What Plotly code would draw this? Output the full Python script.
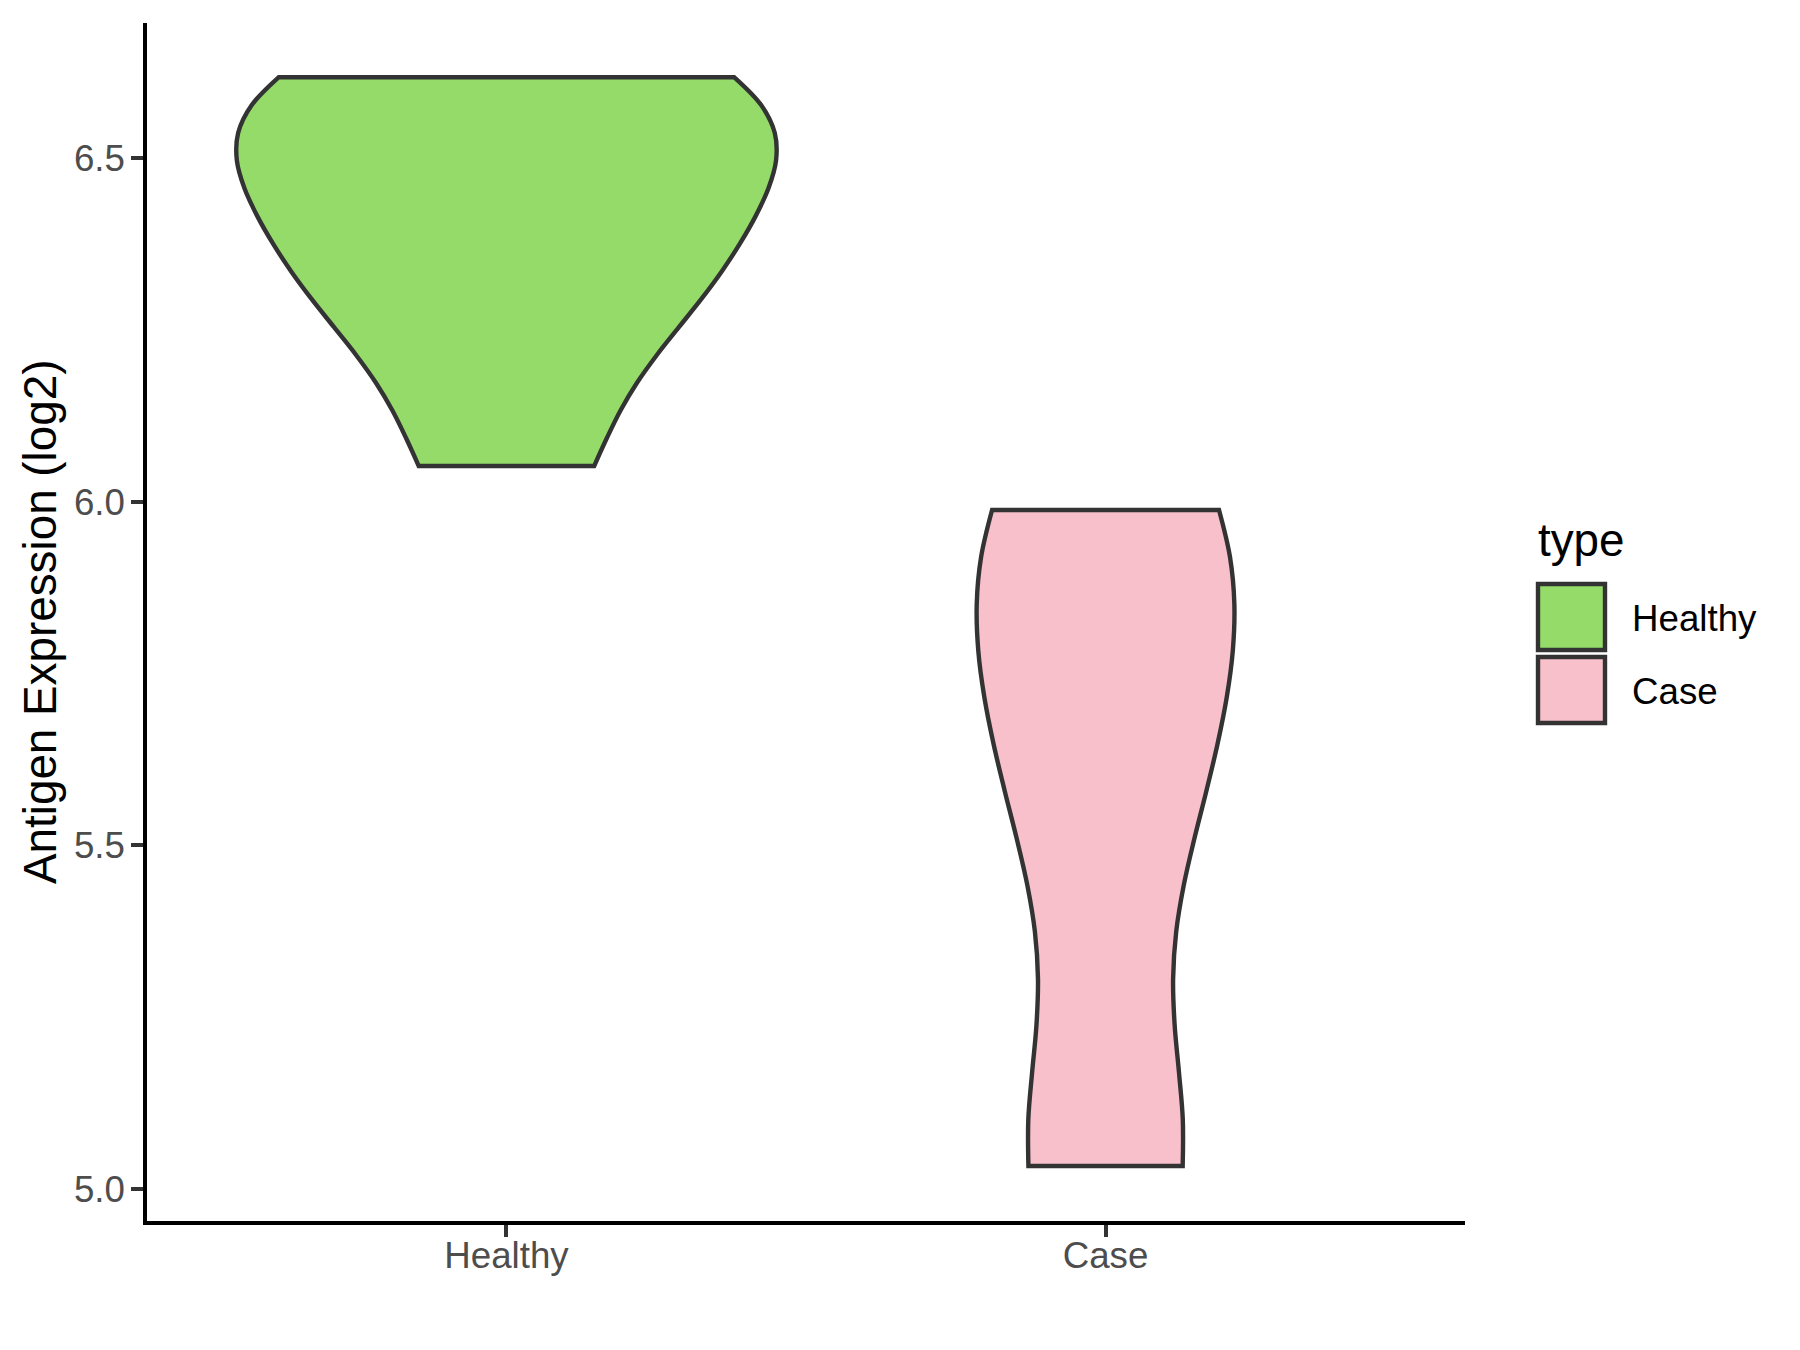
import plotly.graph_objects as go

FONT = "Liberation Sans, Arial, sans-serif"

# data
groups = ["Healthy", "Case"]
healthy_values = [6.052, 6.288, 6.327, 6.450, 6.563, 6.569, 6.618]
case_values = [5.033, 5.033, 5.496, 5.658, 5.822, 5.988, 5.988]
fill_colors = {"Healthy": "#94DB6A", "Case": "#F8C0CB"}
y_ticks = [5.0, 5.5, 6.0, 6.5]

# plot area in page pixels (the div sits 8px in from the body margin)
PX_L, PX_R, PX_T, PX_B = 147, 1465, 23, 1221


def px_x(px):
    return (px - PX_L) / (PX_R - PX_L)


def px_y(py):
    return (PX_B - py) / (PX_B - PX_T)


fig = go.Figure()
fig.add_trace(go.Violin(
    x=["Healthy"] * len(healthy_values), y=healthy_values, name="Healthy",
    fillcolor=fill_colors["Healthy"], line=dict(color="#333333", width=4.4),
    bandwidth=0.130, spanmode="hard", width=0.9, scalemode="width",
    points=False, opacity=1, showlegend=False, hoverinfo="y",
))
fig.add_trace(go.Violin(
    x=["Case"] * len(case_values), y=case_values, name="Case",
    fillcolor=fill_colors["Case"], line=dict(color="#333333", width=4.4),
    bandwidth=0.211, spanmode="hard", width=0.43, scalemode="width",
    points=False, opacity=1, showlegend=False, hoverinfo="y",
))

fig.update_layout(
    width=1784, height=1334,
    margin=dict(l=PX_L - 8, r=1784 - (PX_R - 8), t=PX_T - 8, b=1334 - (PX_B - 8)),
    paper_bgcolor="white", plot_bgcolor="white",
    violinmode="overlay",
    font=dict(family=FONT, color="#4D4D4D"),
    xaxis=dict(
        type="category", categoryorder="array", categoryarray=groups,
        range=[-0.6, 1.6], showline=True, linecolor="black", linewidth=4.4,
        ticks="outside", ticklen=11.5, tickwidth=4.4, tickcolor="#333333",
        ticklabelstandoff=-13,
        tickfont=dict(size=36.7, color="#4D4D4D"), showgrid=False, zeroline=False,
    ),
    yaxis=dict(
        range=[4.953, 6.697], tickvals=y_ticks, tickformat=".1f",
        showline=True, linecolor="black", linewidth=4.4,
        ticks="outside", ticklen=11.5, tickwidth=4.4, tickcolor="#333333",
        ticklabelstandoff=-1,
        tickfont=dict(size=36.7, color="#4D4D4D"), showgrid=False, zeroline=False,
    ),
)

fig.add_annotation(
    text="Antigen Expression (log2)", textangle=-90, xref="paper", yref="paper",
    x=px_x(40), y=0.5, xanchor="center", yanchor="middle", showarrow=False,
    font=dict(size=45.8, color="black", family=FONT),
)

# legend drawn as in ggplot
fig.add_annotation(
    text="type", xref="paper", yref="paper", x=px_x(1536), y=px_y(540),
    xanchor="left", yanchor="middle", showarrow=False,
    font=dict(size=45.8, color="black", family=FONT),
)
for i, g in enumerate(groups):
    top = 584 + i * 73
    fig.add_shape(
        type="rect", xref="paper", yref="paper",
        x0=px_x(1538), x1=px_x(1605), y0=px_y(top + 66), y1=px_y(top),
        fillcolor=fill_colors[g], line=dict(color="#333333", width=4.4),
    )
    fig.add_annotation(
        text=g, xref="paper", yref="paper", x=px_x(1630), y=px_y(top + 34),
        xanchor="left", yanchor="middle", showarrow=False,
        font=dict(size=36.7, color="black", family=FONT),
    )

fig.write_html("out.html")
